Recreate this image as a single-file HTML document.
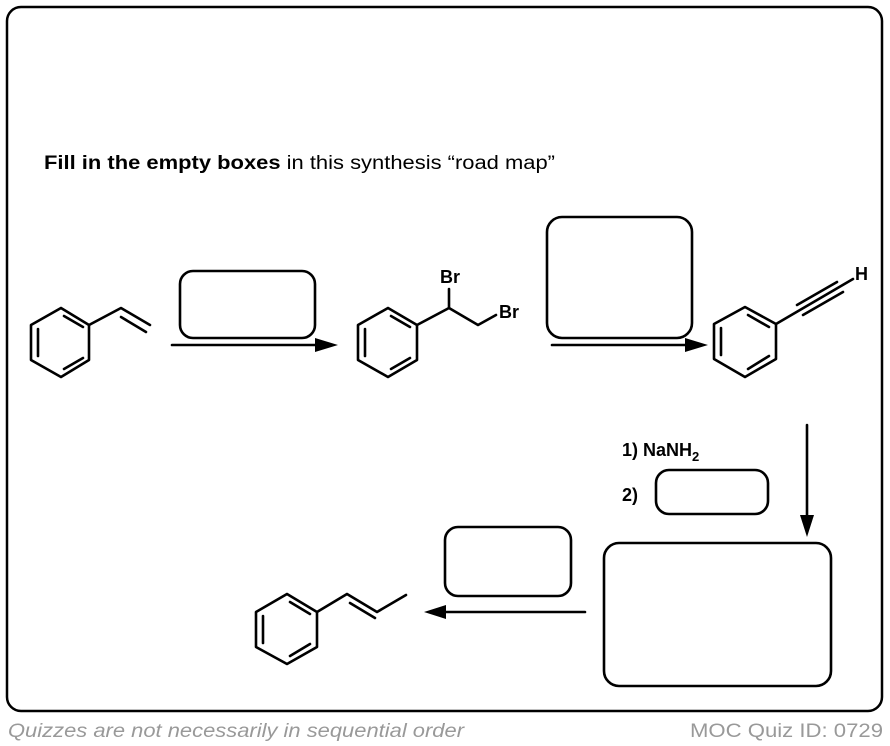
<!DOCTYPE html>
<html><head><style>html,body{margin:0;padding:0;background:#fff}svg{display:block}</style></head>
<body>
<svg width="890" height="746" viewBox="0 0 890 746" xmlns="http://www.w3.org/2000/svg" font-family="Liberation Sans, Arial, sans-serif">
<rect x="7" y="7" width="875" height="704" rx="14" fill="none" stroke="#000" stroke-width="2.5"/>
<text x="44" y="169" font-size="19" textLength="511" lengthAdjust="spacingAndGlyphs"><tspan font-weight="bold">Fill in the empty boxes</tspan> in this synthesis “road map”</text>
<g stroke="#000" stroke-width="2.6" fill="none" stroke-linecap="round" stroke-linejoin="round">
<polygon points="61,308 89,325 89,360 61,377 31,360 31,325"/>
<line x1="38" y1="329" x2="38" y2="356"/><line x1="64" y1="316" x2="83" y2="327"/><line x1="64" y1="369" x2="83" y2="358"/>
<polyline points="89,325 121,308 150,325"/><line x1="121" y1="317" x2="146" y2="332"/>
<rect x="180" y="271" width="135" height="67" rx="13"/>
<line x1="172" y1="345" x2="320" y2="345"/>
<polygon points="388,308 417,325 417,360 388,377 358,360 358,325"/>
<line x1="365" y1="329" x2="365" y2="356"/><line x1="391" y1="316" x2="410" y2="327"/><line x1="391" y1="369" x2="410" y2="358"/>
<polyline points="417,325 449,308 478,325 496,315"/><line x1="449" y1="308" x2="449" y2="289"/>
<rect x="547" y="217" width="145" height="121" rx="15"/>
<line x1="552" y1="345" x2="690" y2="345"/>
<polygon points="745,307 776,324 776,359 745,377 714,359 714,324"/>
<line x1="721" y1="328" x2="721" y2="355"/><line x1="748" y1="315" x2="769" y2="327"/><line x1="748" y1="369" x2="769" y2="356"/>
<line x1="776" y1="324" x2="853" y2="279"/>
<line x1="797" y1="305" x2="837" y2="282"/><line x1="803" y1="315" x2="843" y2="292"/>
<line x1="807" y1="425" x2="807" y2="520"/>
<rect x="656" y="470" width="112" height="44" rx="13"/>
<rect x="604" y="543" width="227" height="143" rx="15"/>
<rect x="445" y="527" width="126" height="69" rx="13"/>
<line x1="585" y1="612" x2="440" y2="612"/>
<polygon points="287,594 317,612 317,647 287,664 256,647 256,612"/>
<line x1="263" y1="616" x2="263" y2="643"/><line x1="290" y1="602" x2="310" y2="614"/><line x1="290" y1="656" x2="310" y2="644"/>
<polyline points="317,612 347,594 377,612 406,595"/><line x1="350" y1="603" x2="375" y2="618"/>
</g>
<g fill="#000">
<polygon points="338,345 315,338 315,352"/>
<polygon points="708,345 685,338 685,352"/>
<polygon points="807,537 800,515 814,515"/>
<polygon points="424,612 446,605 446,619"/>
</g>
<g font-weight="bold" font-size="18">
<text x="440" y="283">Br</text>
<text x="499" y="318">Br</text>
<text x="855" y="280">H</text>
<text x="622" y="456">1) NaNH<tspan font-size="13" dy="5">2</tspan></text>
<text x="622" y="501">2)</text>
</g>
<text x="8" y="737" font-size="19" font-style="italic" fill="#999" textLength="456" lengthAdjust="spacingAndGlyphs">Quizzes are not necessarily in sequential order</text>
<text x="690" y="737" font-size="19" fill="#999" textLength="193" lengthAdjust="spacingAndGlyphs">MOC Quiz ID: 0729</text>
</svg>
</body></html>
